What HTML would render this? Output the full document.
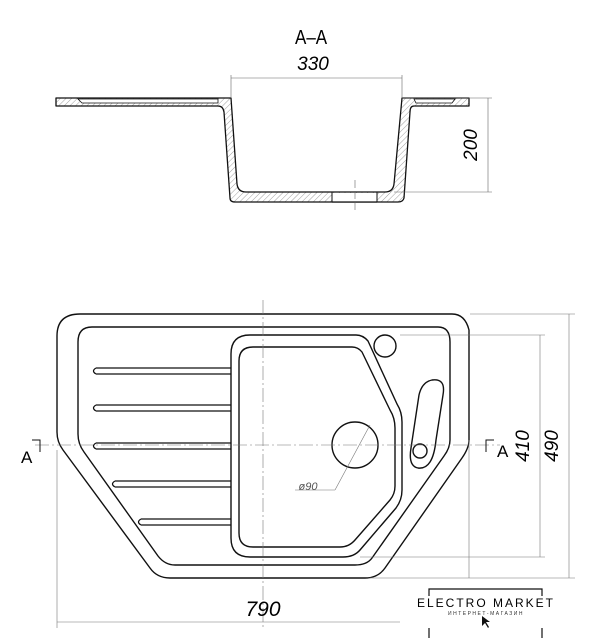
<!DOCTYPE html>
<html><head><style>html,body{margin:0;padding:0;background:#fff}svg{display:block}</style></head><body>
<svg width="600" height="640" viewBox="0 0 600 640" xmlns="http://www.w3.org/2000/svg" font-family="Liberation Sans, sans-serif">
<defs>
<pattern id="h" width="4" height="4" patternUnits="userSpaceOnUse" patternTransform="rotate(45)">
<line x1="0" y1="0" x2="0" y2="4" stroke="#888" stroke-width="0.8"/>
</pattern>
</defs>
<text x="311" y="44" font-size="20" text-anchor="middle" transform="scale(0.85,1) translate(55,0)">A–A</text>
<!-- section -->
<g stroke="#111" stroke-width="1.3" fill="url(#h)" stroke-linejoin="round">
<path d="M56,98 L231,98 L237,184 Q238,192 246,192 L385,192 Q393,192 394,184 L402,98 L469,98 L469,106 L414,106 Q410,106 410,112 L404,198 Q403,202 398,202 L235,202 Q230,202 230,198 L224,112 Q223,106 218,106 L56,106 Z"/>
</g>
<path d="M78,99 L218,99 L218,103 L82,103 Z" fill="#fff" stroke="#111" stroke-width="0.8"/>
<path d="M414,99 L455,99 L452,103 L416,103 Z" fill="#fff" stroke="#111" stroke-width="0.8"/>
<rect x="332" y="193" width="45" height="8.5" fill="#fff" stroke="none"/>
<line x1="332" y1="192" x2="332" y2="202" stroke="#111" stroke-width="1"/>
<line x1="377" y1="192" x2="377" y2="202" stroke="#111" stroke-width="1"/>
<line x1="332" y1="202" x2="377" y2="202" stroke="#111" stroke-width="1.3"/>
<g stroke="#666" stroke-width="0.6" fill="none">
<line x1="231" y1="75" x2="231" y2="98"/><line x1="402" y1="75" x2="402" y2="98"/>
<line x1="231" y1="78" x2="402" y2="78"/>
<line x1="402" y1="98" x2="492" y2="98"/><line x1="394" y1="192" x2="492" y2="192"/>
<line x1="488" y1="98" x2="488" y2="192"/>
<line x1="355" y1="180" x2="355" y2="210" stroke-dasharray="8,3"/>
</g>
<text x="313" y="70" font-size="19" font-style="italic" text-anchor="middle">330</text>
<text x="0" y="0" font-size="19" font-style="italic" text-anchor="middle" transform="translate(477,145) rotate(-90)">200</text>

<!-- plan -->
<g stroke="#111" stroke-width="1.4" fill="none" stroke-linejoin="round">
<path d="M80,314 L452,314 Q465,314 469,330 L469,440 Q469,448 462,458 L385,568 Q378,578 365,578 L170,578 Q157,578 150,568 L63,450 Q57,442 57,432 L57,336 Q57,314 80,314 Z"/>
<path d="M92,327 L438,327 Q450,327 450,342 L450,440 Q450,448 444,456 L372,558 Q367,565 355,565 L175,565 Q165,565 158,556 L84,452 Q78,444 78,434 L78,342 Q78,327 92,327 Z"/>
<path d="M250,335 L356,335 Q363,335 368,341 L397,404 Q402,412 402,422 L402,490 Q402,500 396,508 L360,550 Q354,557 343,557 L250,557 Q231,557 231,538 L231,354 Q231,335 250,335 Z"/>
<path d="M253,347 L352,347 Q358,347 362,352 L390,410 Q395,418 395,428 L395,486 Q395,494 390,500 L355,540 Q349,547 340,547 L253,547 Q239,547 239,533 L239,361 Q239,347 253,347 Z"/>
<circle cx="355" cy="445" r="23"/>
<circle cx="385" cy="346" r="11"/>
<path d="M432,380 Q446,378 443,395 L436,440 Q433,470 418,468 Q408,466 411,448 L419,395 Q422,382 432,380 Z"/>
<circle cx="420" cy="451" r="7"/>
</g>
<g stroke="#111" stroke-width="1.3" fill="none">
<path d="M96,368 L231,368 M96,374 L231,374 M96,368 Q91,371 96,374"/>
<path d="M96,405 L231,405 M96,411 L231,411 M96,405 Q91,408 96,411"/>
<path d="M96,443 L231,443 M96,449 L231,449 M96,443 Q91,446 96,449"/>
<path d="M115,481 L231,481 M115,487 L231,487 M115,481 Q110,484 115,487"/>
<path d="M141,519 L231,519 M141,525 L231,525 M141,519 Q136,522 141,525"/>
</g>
<g stroke="#777" stroke-width="0.6" fill="none">
<line x1="35" y1="445" x2="500" y2="445" stroke-dasharray="14,3,2,3"/>
<line x1="263" y1="300" x2="263" y2="630" stroke-dasharray="14,3,2,3"/>
<line x1="57" y1="450" x2="57" y2="628"/>
<line x1="57" y1="622" x2="400" y2="622"/>
<line x1="470" y1="314" x2="575" y2="314"/><line x1="370" y1="578" x2="575" y2="578"/>
<line x1="569" y1="314" x2="569" y2="578"/>
<line x1="400" y1="335" x2="545" y2="335"/><line x1="360" y1="557" x2="545" y2="557"/>
<line x1="540" y1="335" x2="540" y2="557"/>
<line x1="469" y1="440" x2="469" y2="578"/>
<line x1="335" y1="490" x2="370" y2="425"/><line x1="295" y1="490" x2="335" y2="490"/>
</g>
<g stroke="#111" stroke-width="1" fill="none">
<path d="M32,440 L40,440 L40,452"/>
<path d="M494,440 L486,440 L486,452"/>
</g>
<text x="21" y="463" font-size="17">A</text>
<text x="497" y="457" font-size="17">A</text>
<text x="0" y="0" font-size="19" font-style="italic" text-anchor="middle" transform="translate(529,446) rotate(-90)">410</text>
<text x="0" y="0" font-size="19" font-style="italic" text-anchor="middle" transform="translate(558,446) rotate(-90)">490</text>
<text x="263" y="616" font-size="21" font-style="italic" text-anchor="middle">790</text>
<text x="308" y="490" font-size="11" font-style="italic" fill="#555" text-anchor="middle">ø90</text>
<!-- logo -->
<g stroke="#111" stroke-width="1.2" fill="none">
<path d="M429,596 L429,589 L542,589 L542,596"/>
<path d="M429,628 L429,638 M542,628 L542,638"/>
</g>
<text x="486" y="607" font-size="12" text-anchor="middle" letter-spacing="2">ELECTRO MARKET</text>
<text x="486" y="615" font-size="5" text-anchor="middle" letter-spacing="1.5" fill="#333">ИНТЕРНЕТ-МАГАЗИН</text>
<path d="M482,616 L482,626 L485,623 L488,628 L489,627 L486,622 L490,622 Z" fill="#111"/>
</svg>
</body></html>
